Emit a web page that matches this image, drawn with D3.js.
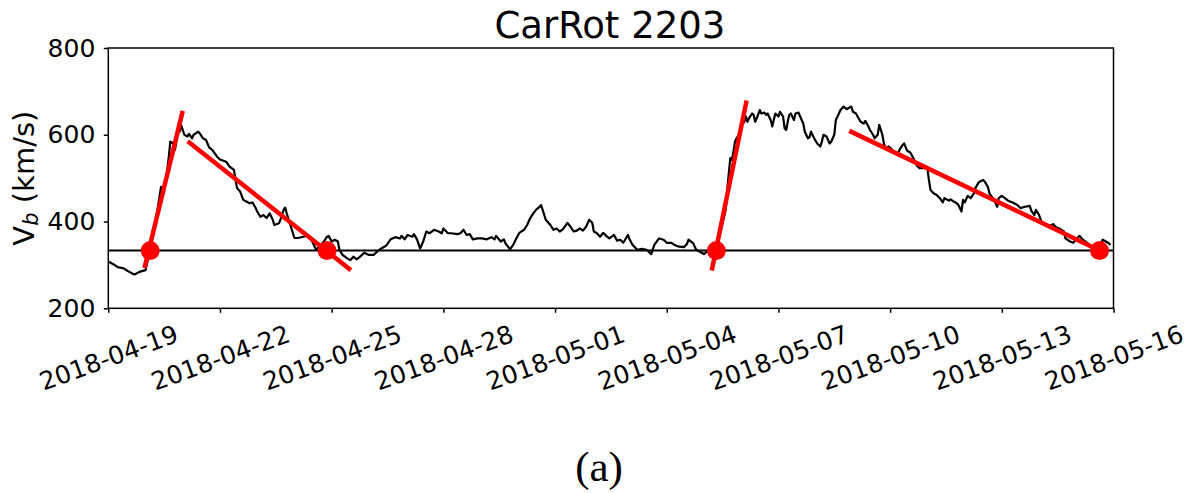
<!DOCTYPE html>
<html>
<head>
<meta charset="utf-8">
<script src="https://cdn.jsdelivr.net/npm/d3@7"></script>
<style>
  html, body { margin: 0; padding: 0; background: #fff; }
  svg { display: block; }
  text { font-family: "DejaVu Sans", sans-serif; }
</style>
</head>
<body>
<svg id="chart" width="1200" height="493"></svg>
<script>
// ---------------- data ----------------
const chartTitle = "CarRot 2203";
const caption = "(a)";
const startTime = "2018-04-19T00:00:00Z";
const xDomain = ["2018-04-19", "2018-05-16"];
const tickDates = ["2018-04-19","2018-04-22","2018-04-25","2018-04-28","2018-05-01",
                   "2018-05-04","2018-05-07","2018-05-10","2018-05-13","2018-05-16"];
const yTicks = [200, 400, 600, 800];
const yDomain = [200, 800];

// bulk solar-wind speed: hours since startTime, and speed (km/s)
const hoursSinceStart = [0,1,4,6,10,12,15,17,20,24,26,28,30,32,34,35,37,38,39,40,42,43,44,45,46,47,48,49,51,52,54,55,58,59,61,63,65,67,70,72,76,78,81,82,83,85,87,89,91,93,95,96,98,100,102,104,106,107,110,111,113,114,115,117,119,120,122,126,128,130,132,134,136,139,141,142,144,146,148,149,151,154,156,158,160,162,165,168,171,174,176,179,182,185,188,189,191,193,196,197,199,201,203,205,207,210,213,215,216,219,221,225,227,229,231,233,235,238,241,244,247,249,250,253,255,256,259,261,263,265,268,270,272,274,276,278,279,280,282,285,287,289,291,293,296,298,300,302,304,306,308,310,312,313,315,317,319,321,323,326,328,330,332,335,336,338,341,344,347,350,352,355,358,360,363,365,368,371,373,374,377,379,381,384,386,388,390,393,395,398,399,400,401,402,403,404,405,407,408,410,411,412,413,415,416,417,418,420,421,423,424,425,427,428,429,430,432,433,435,436,437,438,439,440,442,443,445,446,448,449,451,452,453,455,457,459,460,461,463,465,466,468,469,471,472,474,476,477,479,480,482,483,485,487,488,490,491,493,494,496,497,499,500,501,503,505,506,509,510,512,513,515,517,519,521,523,525,528,529,530,532,534,536,538,539,542,543,545,547,548,550,551,552,554,556,558,559,561,564,565,567,568,571,573,574,576,578,580,583,586,588,591,594,595,597,598,600,602,604,607,609,611,613,616,617,620,622,624,626,628,631,633,635,637,639,641,645,646];
const speedKms = [307,306,300,295,292,287,281,278,284,288,319,353,388,434,480,473,488,519,549,584,580,565,588,611,607,622,611,600,596,602,592,600,607,603,592,588,571,565,550,543,538,527,519,496,477,469,450,446,442,444,431,423,411,415,408,419,404,392,396,404,427,432,419,396,373,362,362,365,369,365,350,335,342,354,365,367,354,358,354,335,323,315,311,319,313,318,328,323,323,333,338,344,359,364,361,367,359,369,365,371,359,338,354,377,373,381,377,373,384,373,373,371,373,381,369,371,359,361,361,359,364,359,367,354,359,350,336,346,361,374,381,392,408,419,428,434,438,427,404,392,381,384,377,382,397,388,377,379,384,379,388,404,397,377,373,365,374,367,361,369,356,358,351,369,359,346,335,337,335,325,346,361,358,351,351,346,342,341,348,358,350,335,331,325,331,333,338,358,381,427,473,511,546,542,561,584,592,603,619,630,642,630,638,649,646,630,638,657,649,651,646,649,634,619,634,649,642,653,642,615,611,630,646,649,634,649,651,642,626,607,592,594,607,592,580,573,584,600,596,580,584,600,634,649,657,665,659,661,665,653,649,642,630,626,632,619,611,600,592,600,623,600,580,569,573,567,561,553,565,576,580,563,559,546,530,523,523,523,496,473,465,461,454,444,454,448,451,446,442,438,423,450,444,459,454,465,477,490,496,492,480,465,450,434,454,459,454,448,444,438,431,434,436,425,415,427,415,396,394,390,394,387,384,377,361,354,351,359,367,359,351,344,338,334,340,358,350,346];

// background (threshold) speed
const thresholdSpeed = 333;

// stream boundaries (red dots)
const eventHours = [27, 141, 392, 639];
const eventSpeeds = [333, 333, 333, 333];

// fitted rise / decay lines (red)
const fitStartHours = [23.3, 51.2, 389.0, 477.7];
const fitStartSpeeds = [293, 585, 287, 609];
const fitEndHours = [48.0, 156.4, 411.5, 638.0];
const fitEndSpeeds = [655, 288, 679, 335];

// ---------------- drawing ----------------
const svg = d3.select("#chart");
const margin = { left: 108.3, right: 1200 - 1113.5, top: 48, bottom: 493 - 308.3 };
const W = 1200, H = 493;
const t0 = new Date(startTime);
const hourToDate = h => new Date(t0.getTime() + h * 3600 * 1000);

const x = d3.scaleUtc()
  .domain(xDomain.map(d => new Date(d + "T00:00:00Z")))
  .range([margin.left, W - margin.right]);
const y = d3.scaleLinear().domain(yDomain).range([H - margin.bottom, margin.top]);

const FONT = "'DejaVu Sans', sans-serif";

svg.append("defs").append("clipPath").attr("id", "clip")
  .append("rect")
  .attr("x", margin.left).attr("y", margin.top)
  .attr("width", W - margin.left - margin.right)
  .attr("height", H - margin.top - margin.bottom);

const plot = svg.append("g").attr("clip-path", "url(#clip)");

// data line
const series = hoursSinceStart.map((h, i) => ({ t: hourToDate(h), v: speedKms[i] }));
plot.append("path")
  .datum(series)
  .attr("fill", "none")
  .attr("stroke", "#000")
  .attr("stroke-width", 2.2)
  .attr("stroke-linejoin", "round")
  .attr("d", d3.line().x(d => x(d.t)).y(d => y(d.v)));

// threshold line
plot.append("line")
  .attr("x1", x.range()[0]).attr("x2", x.range()[1])
  .attr("y1", y(thresholdSpeed)).attr("y2", y(thresholdSpeed))
  .attr("stroke", "#000").attr("stroke-width", 2);

// fit lines
plot.selectAll(".fit")
  .data(fitStartHours.map((h, i) => ({
    h0: h, v0: fitStartSpeeds[i], h1: fitEndHours[i], v1: fitEndSpeeds[i]
  })))
  .join("line")
  .attr("class", "fit")
  .attr("x1", d => x(hourToDate(d.h0))).attr("y1", d => y(d.v0))
  .attr("x2", d => x(hourToDate(d.h1))).attr("y2", d => y(d.v1))
  .attr("stroke", "#ff0000").attr("stroke-width", 4.5);

// event dots
svg.selectAll(".dot")
  .data(eventHours.map((h, i) => ({ t: hourToDate(h), v: eventSpeeds[i] })))
  .join("circle")
  .attr("class", "dot")
  .attr("cx", d => x(d.t)).attr("cy", d => y(d.v))
  .attr("r", 9.5)
  .attr("fill", "#ff0000");

// frame
svg.append("rect")
  .attr("x", margin.left).attr("y", margin.top)
  .attr("width", W - margin.left - margin.right)
  .attr("height", H - margin.top - margin.bottom)
  .attr("fill", "none").attr("stroke", "#000").attr("stroke-width", 1.5);

// y axis
const yAxis = svg.append("g")
  .attr("transform", `translate(${margin.left},0)`)
  .call(d3.axisLeft(y).tickValues(yTicks).tickSize(4.5).tickPadding(8.5).tickFormat(d3.format("d")));
yAxis.attr("font-family", null).attr("font-size", null);
yAxis.select(".domain").remove();
yAxis.selectAll(".tick line").attr("stroke", "#000").attr("stroke-width", 1.5);
yAxis.selectAll(".tick text")
  .attr("fill", "#000")
  .style("font-family", FONT).style("font-size", "25px");

// x axis
const xAxis = svg.append("g")
  .attr("transform", `translate(0,${H - margin.bottom})`)
  .call(d3.axisBottom(x)
    .tickValues(tickDates.map(d => new Date(d + "T00:00:00Z")))
    .tickSize(4.5)
    .tickFormat(d3.utcFormat("%Y-%m-%d")));
xAxis.attr("font-family", null).attr("font-size", null);
xAxis.select(".domain").remove();
xAxis.selectAll(".tick line").attr("stroke", "#000").attr("stroke-width", 1.5);
xAxis.selectAll(".tick text")
  .attr("fill", "#000")
  .attr("y", null).attr("dy", "0.35em")
  .attr("text-anchor", "middle")
  .attr("transform", "translate(0,49.5) rotate(-20)")
  .style("font-family", FONT).style("font-size", "25px");

// title
svg.append("text")
  .attr("x", (margin.left + W - margin.right) / 2 - 1)
  .attr("y", 38)
  .attr("text-anchor", "middle")
  .style("font-family", FONT).style("font-size", "37px")
  .attr("fill", "#000")
  .text(chartTitle);

// y label
const yl = svg.append("text")
  .attr("transform", `translate(34,${(margin.top + H - margin.bottom) / 2}) rotate(-90)`)
  .attr("text-anchor", "middle")
  .style("font-family", FONT).style("font-size", "29px")
  .attr("fill", "#000");
yl.append("tspan").text("V");
yl.append("tspan").attr("dy", "0.2em").style("font-size", "21px").style("font-style", "italic").text("b");
yl.append("tspan").attr("dy", "-0.14em").text(" (km/s)");

// caption
svg.append("text")
  .attr("x", 599).attr("y", 481)
  .attr("text-anchor", "middle")
  .style("font-family", "'Liberation Serif', serif").style("font-size", "43px")
  .attr("fill", "#000")
  .text(caption);
</script>
</body>
</html>
